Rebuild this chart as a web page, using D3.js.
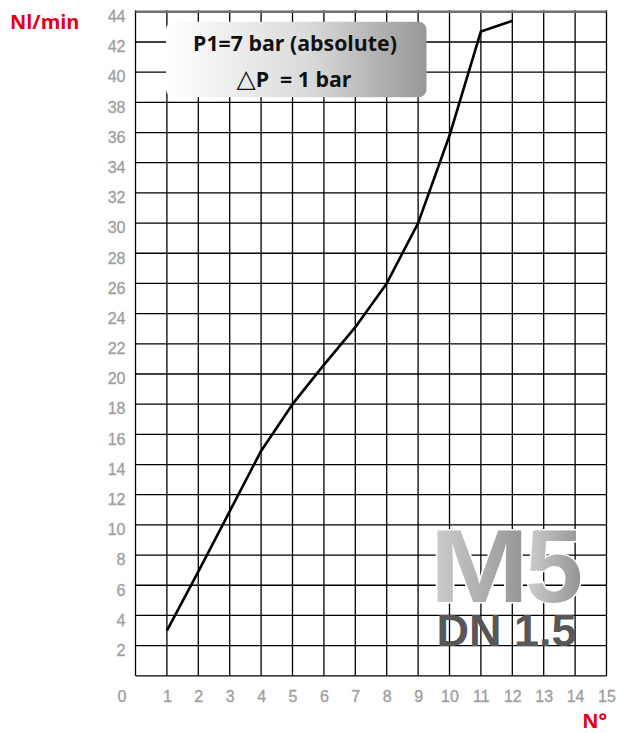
<!DOCTYPE html>
<html>
<head>
<meta charset="utf-8">
<script src="https://cdn.jsdelivr.net/npm/d3@7"></script>
<style>
  html, body { margin: 0; padding: 0; background: #fff; }
  svg { display: block; }
</style>
</head>
<body>
<svg id="chart" width="617" height="733"></svg>
<script>
// Number of turns of the regulating screw
const turns = [1, 2, 3, 4, 5, 6, 7, 8, 9, 10, 11, 12];
// Flow rate (Nl/min) at P1 = 7 bar absolute, ΔP = 1 bar
const flow = [3, 6.9, 10.9, 14.9, 18, 20.6, 23.1, 26, 30, 35.8, 42.7, 43.4];

const xTicks = d3.range(0, 16);        // 0 … 15
const yTicks = d3.range(2, 46, 2);      // 2 … 44
const yGrid = d3.range(0, 46, 2);       // 0 … 44

const boxLine1 = "P1=7 bar (absolute)";
const boxLine2 = ["\u25B3", "P  = 1 bar"];
const yUnit = "Nl/min";
const xUnit = "N°";
const modelName = ["M", "5"];
const modelSize = "DN 1.5";

const svg = d3.select("#chart");
const x = d3.scaleLinear().domain([0, 15]).range([135.5, 606.5]);
const y = d3.scaleLinear().domain([0, 44]).range([675.8, 11.8]);

const defs = svg.append("defs");
const boxGrad = defs.append("linearGradient").attr("id", "boxGrad")
  .attr("x1", 0).attr("x2", 1).attr("y1", 0).attr("y2", 0);
boxGrad.append("stop").attr("offset", 0).attr("stop-color", "#ffffff");
boxGrad.append("stop").attr("offset", 0.55).attr("stop-color", "#dadada");
boxGrad.append("stop").attr("offset", 1).attr("stop-color", "#979797");

const glyphGrad = defs.append("linearGradient").attr("id", "glyphGrad")
  .attr("x1", 0).attr("x2", 1).attr("y1", 0).attr("y2", 0);
glyphGrad.append("stop").attr("offset", 0).attr("stop-color", "#cfcfcf");
glyphGrad.append("stop").attr("offset", 1).attr("stop-color", "#929292");

// Grid
const grid = svg.append("g").attr("stroke", "#000").attr("stroke-width", 1.3);
grid.selectAll("line.v").data(xTicks).join("line").attr("class", "v")
  .attr("x1", d => x(d)).attr("x2", d => x(d))
  .attr("y1", y(44) - 1.5).attr("y2", y(0));
grid.selectAll("line.h").data(yGrid).join("line").attr("class", "h")
  .attr("x1", x(0)).attr("x2", x(15))
  .attr("y1", d => y(d)).attr("y2", d => y(d))
  .attr("stroke", d => d === 44 ? "#707070" : "#000")
  .attr("stroke-width", d => d === 44 ? 2.4 : 1.3);

// Tick labels
const tickFont = "'Liberation Sans', Arial, sans-serif";
const yAxis = svg.append("g")
  .attr("transform", `translate(${125.5},0)`)
  .call(d3.axisLeft(y).tickValues(yTicks).tickSize(0).tickPadding(0));
yAxis.select(".domain").remove();
yAxis.selectAll("text")
  .attr("dy", null).attr("y", 9.8)
  .attr("fill", "#a0a0a0").attr("font-size", 16)
  .attr("font-family", tickFont)
  .attr("stroke", "#a0a0a0").attr("stroke-width", 0.35);

const xAxis = svg.append("g")
  .attr("transform", `translate(0,${701.5})`)
  .call(d3.axisBottom(x).tickValues(xTicks).tickSize(0).tickPadding(0));
xAxis.select(".domain").remove();
xAxis.selectAll("text")
  .attr("dy", null).attr("y", 0)
  .attr("fill", "#a0a0a0").attr("font-size", 16)
  .attr("font-family", tickFont)
  .attr("stroke", "#a0a0a0").attr("stroke-width", 0.35)
  .attr("dx", d => d === 0 ? -14 : 0);

// Axis units
svg.append("text").attr("x", 10).attr("y", 29)
  .attr("fill", "#e2001a").attr("font-family", "'Open Sans', sans-serif")
  .attr("font-weight", 700).attr("font-size", 20).text(yUnit);
svg.append("text").attr("x", 607).attr("y", 728).attr("text-anchor", "end")
  .attr("fill", "#e2001a").attr("font-family", "'Open Sans', sans-serif")
  .attr("font-weight", 700).attr("font-size", 20).text(xUnit);

// Condition box
const box = svg.append("g");
box.append("rect")
  .attr("x", 166).attr("y", 21.7).attr("width", 260.5).attr("height", 75.6)
  .attr("rx", 8).attr("ry", 8).attr("fill", "url(#boxGrad)");
box.append("text")
  .attr("x", 295).attr("y", 50.7).attr("text-anchor", "middle")
  .attr("font-family", "'Open Sans', sans-serif")
  .attr("font-weight", 700).attr("font-size", 21.3)
  .attr("fill", "#111").text(boxLine1);
const l2 = box.append("text")
  .attr("x", 294).attr("y", 87.3).attr("text-anchor", "middle")
  .attr("font-family", "'Open Sans', sans-serif")
  .attr("font-weight", 700).attr("font-size", 21.3)
  .attr("fill", "#111").attr("xml:space", "preserve");
l2.append("tspan").attr("font-family", "'DejaVu Sans', sans-serif")
  .attr("font-weight", 400).attr("font-size", 25).text(boxLine2[0]);
l2.append("tspan").text(boxLine2[1]);

// Model badge: wide "M" followed by "5", each with its own gradient sweep
const badgeFont = "'Liberation Sans', Arial, Helvetica, sans-serif";
const mLeft = 429.5, mStretch = 1.15;
svg.append("text")
  .attr("transform", `translate(${mLeft},601.7) scale(${mStretch},1)`)
  .attr("font-family", badgeFont).attr("font-weight", 700).attr("font-size", 104)
  .attr("fill", "url(#glyphGrad)").attr("stroke", "#fff").attr("stroke-width", 3)
  .attr("paint-order", "stroke").text(modelName[0]);
svg.append("text")
  .attr("x", 583).attr("y", 601.7).attr("text-anchor", "end")
  .attr("font-family", badgeFont).attr("font-weight", 700).attr("font-size", 104)
  .attr("fill", "url(#glyphGrad)").attr("stroke", "#fff").attr("stroke-width", 3)
  .attr("paint-order", "stroke").text(modelName[1]);
svg.append("text")
  .attr("x", 436.5).attr("y", 645.7)
  .attr("font-family", badgeFont).attr("font-weight", 700).attr("font-size", 45)
  .attr("fill", "#575757").text(modelSize);

// Flow curve
const line = d3.line().x((d, i) => x(turns[i])).y(d => y(d));
svg.append("path").datum(flow)
  .attr("d", line).attr("fill", "none")
  .attr("stroke", "#000").attr("stroke-width", 2.6)
  .attr("stroke-linejoin", "round");
</script>
</body>
</html>
